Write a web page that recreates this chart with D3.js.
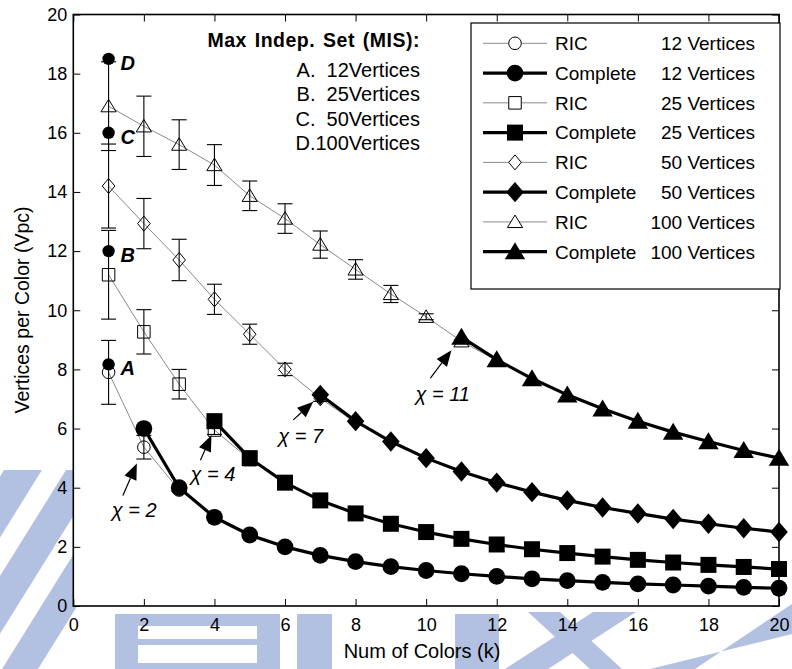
<!DOCTYPE html>
<html>
<head>
<meta charset="utf-8">
<script src="https://cdn.jsdelivr.net/npm/d3@7"></script>
<style>
  html, body { margin: 0; padding: 0; background: #fff; }
  svg { display: block; font-family: "Liberation Sans", Arial, Helvetica, sans-serif; }
  text { white-space: pre; }
</style>
</head>
<body>
<svg id="chart" width="792" height="669"></svg>
<script>
// ---- data -----------------------------------------------------------
const xTicks = [0, 2, 4, 6, 8, 10, 12, 14, 16, 18, 20];
const yTicks = [0, 2, 4, 6, 8, 10, 12, 14, 16, 18, 20];
const vertexCounts = [12, 25, 50, 100];

// RIC colouring: mean vertices per colour from k = 1, with half-width of the spread
const ric12 = [7.9, 5.37, 3.92];
const ric12Err = [1.08, 0.4, 0.05];
const ric25 = [11.2, 9.27, 7.5, 5.95, 4.95];
const ric25Err = [1.5, 0.75, 0.5, 0.15, 0];
const ric50 = [14.2, 12.93, 11.7, 10.37, 9.19, 8.0, 7.02, 6.2];
const ric50Err = [1.42, 0.85, 0.7, 0.51, 0.34, 0.21, 0.1, 0];
const ric100 = [16.9, 16.22, 15.6, 14.91, 13.87, 13.1, 12.22, 11.38, 10.55, 9.78, 8.95, 8.3];
const ric100Err = [1.5, 1.02, 0.84, 0.69, 0.5, 0.5, 0.46, 0.33, 0.29, 0.1, 0.05, 0];

// Chromatic numbers: the complete colouring starts at k = chi
const chiValues = [2, 4, 7, 11];
const complete12 = [6.0, 4.0, 3.0, 2.4, 2.0, 1.71, 1.5, 1.33, 1.2, 1.09, 1.0, 0.92, 0.86, 0.8, 0.75, 0.71, 0.67, 0.63, 0.6];
const complete25 = [6.25, 5.0, 4.17, 3.57, 3.13, 2.78, 2.5, 2.27, 2.08, 1.92, 1.79, 1.67, 1.56, 1.47, 1.39, 1.32, 1.25];
const complete50 = [7.14, 6.25, 5.56, 5.0, 4.55, 4.17, 3.85, 3.57, 3.33, 3.13, 2.94, 2.78, 2.63, 2.5];
const complete100 = [9.09, 8.33, 7.69, 7.14, 6.67, 6.25, 5.88, 5.56, 5.26, 5.0];

// Maximum independent set sizes, shown at k = 1
const misLetters = ["A", "B", "C", "D"];
const misValues = [8.17, 12.0, 16.0, 18.5];
const misTitle = "Max Indep. Set (MIS):";
const misLines = ["A.  12Vertices", "B.  25Vertices", "C.  50Vertices", "D.100Vertices"];

const methodNames = ["RIC", "Complete"];

// ---- layout ---------------------------------------------------------
const svg = d3.select("#chart");
const x = d3.scaleLinear().domain([0, 20]).range([73.3, 779]);
const y = d3.scaleLinear().domain([0, 20]).range([606, 14.5]);
const ink = "#000";
const ricGrey = "#8a8a8a";
const emblem = "#b2c1e2";

// faint emblem in the page background
const bg = svg.append("g");
const bands = [
  [[-120, 669], [-82, 669], [42, 470], [4, 470]],
  [[-58, 669], [-22, 669], [102, 470], [66, 470]],
  [[2, 669], [38, 669], [162, 470], [126, 470]],
  [[505, 669], [548, 669], [636, 612], [593, 612]],
  [[650, 669], [695, 669], [792, 604], [792, 634]],
  [[590, 669], [622, 669], [560, 612], [528, 612]]
];
bg.selectAll("polygon").data(bands).join("polygon")
  .attr("points", d => d.map(p => p.join(",")).join(" "))
  .attr("fill", emblem);
bg.append("rect").attr("x", 115).attr("y", 614).attr("width", 165).attr("height", 55).attr("fill", emblem);
bg.append("rect").attr("x", 138).attr("y", 626).attr("width", 119).attr("height", 13).attr("fill", "#fff");
bg.append("rect").attr("x", 138).attr("y", 645).attr("width", 119).attr("height", 18).attr("fill", "#fff");
bg.append("rect").attr("x", 297).attr("y", 614).attr("width", 35).attr("height", 55).attr("fill", emblem);
bg.append("rect").attr("x", 455).attr("y", 614).attr("width", 44).attr("height", 55).attr("fill", emblem);

// plot background
svg.append("rect")
  .attr("x", x(0)).attr("y", y(20))
  .attr("width", x(20) - x(0)).attr("height", y(0) - y(20))
  .attr("fill", "#fff");

// ---- axes (ticks point inward on all four sides) ---------------------
function styleAxis(g, fs) {
  g.select(".domain").remove();
  g.selectAll(".tick line").attr("stroke", ink).attr("stroke-width", 1);
  g.selectAll(".tick text").attr("fill", ink).style("font-size", fs + "px")
    .style("font-family", "'Liberation Sans', Arial, sans-serif");
}
svg.append("g").attr("transform", `translate(0,${y(0)})`)
  .call(d3.axisBottom(x).tickValues(xTicks).tickSize(-7).tickPadding(12).tickFormat(d3.format("d")))
  .call(g => styleAxis(g, 18));
svg.append("g").attr("transform", `translate(0,${y(20)})`)
  .call(d3.axisTop(x).tickValues(xTicks).tickSize(-7).tickFormat(""))
  .call(g => styleAxis(g, 18));
svg.append("g").attr("transform", `translate(${x(0)},0)`)
  .call(d3.axisLeft(y).tickValues(yTicks).tickSize(-7).tickPadding(6).tickFormat(d3.format("d")))
  .call(g => styleAxis(g, 18));
svg.append("g").attr("transform", `translate(${x(20)},0)`)
  .call(d3.axisRight(y).tickValues(yTicks).tickSize(-7).tickFormat(""))
  .call(g => styleAxis(g, 18));
svg.append("rect")
  .attr("x", x(0)).attr("y", y(20))
  .attr("width", x(20) - x(0)).attr("height", y(0) - y(20))
  .attr("fill", "none").attr("stroke", ink).attr("stroke-width", 1.6);

// axis titles
svg.append("text").attr("x", 422).attr("y", 658).attr("text-anchor", "middle")
  .style("font-size", "20px").attr("fill", ink).text("Num of Colors (k)");
svg.append("text").attr("transform", "translate(29,310) rotate(-90)").attr("text-anchor", "middle")
  .style("font-size", "19.5px").attr("fill", ink).text("Vertices per Color (Vpc)");

// ---- marker shapes ---------------------------------------------------
const shapes = {
  circle: (r) => `M${r},0A${r},${r} 0 1,1 ${-r},0A${r},${r} 0 1,1 ${r},0Z`,
  square: (s) => `M${-s / 2},${-s / 2}H${s / 2}V${s / 2}H${-s / 2}Z`,
  diamond: (w, h) => `M0,${-h}L${w},0L0,${h}L${-w},0Z`,
  triangle: (w, h) => `M0,${-h * 0.55}L${w},${h * 0.45}L${-w},${h * 0.45}Z`
};
const openMarker = [
  () => shapes.circle(6.3),
  () => shapes.square(12.5),
  () => shapes.diamond(6.3, 7.5),
  () => shapes.triangle(7.6, 12.5)
];
const filledMarker = [
  () => shapes.circle(8.4),
  () => shapes.square(16),
  () => shapes.diamond(8.8, 10.2),
  () => shapes.triangle(10.2, 17)
];

const ricSets = [[ric12, ric12Err], [ric25, ric25Err], [ric50, ric50Err], [ric100, ric100Err]];
const completeSets = [complete12, complete25, complete50, complete100];

const plot = svg.append("g");

// RIC curves (thin grey) with spread bars
ricSets.forEach(([vals, errs], si) => {
  const pts = vals.map((v, i) => ({ k: i + 1, v, e: errs[i] }));
  plot.append("path").datum(pts)
    .attr("d", d3.line().x(d => x(d.k)).y(d => y(d.v)))
    .attr("fill", "none").attr("stroke", ricGrey).attr("stroke-width", 1);
  const eb = plot.append("g").selectAll("g").data(pts.filter(d => d.e > 0)).join("g")
    .attr("stroke", ink).attr("stroke-width", 1.1);
  eb.append("line").attr("x1", d => x(d.k)).attr("x2", d => x(d.k))
    .attr("y1", d => y(d.v - d.e)).attr("y2", d => y(d.v + d.e));
  eb.append("line").attr("x1", d => x(d.k) - 7.5).attr("x2", d => x(d.k) + 7.5)
    .attr("y1", d => y(d.v - d.e)).attr("y2", d => y(d.v - d.e));
  eb.append("line").attr("x1", d => x(d.k) - 7.5).attr("x2", d => x(d.k) + 7.5)
    .attr("y1", d => y(d.v + d.e)).attr("y2", d => y(d.v + d.e));
  plot.append("g").selectAll("path").data(pts).join("path")
    .attr("transform", d => `translate(${x(d.k)},${y(d.v)})`)
    .attr("d", openMarker[si]())
    .attr("fill", "none").attr("stroke", ink).attr("stroke-width", 1);
});

// Complete colouring curves (thick black)
completeSets.forEach((vals, si) => {
  const pts = vals.map((v, i) => ({ k: chiValues[si] + i, v }));
  plot.append("path").datum(pts)
    .attr("d", d3.line().x(d => x(d.k)).y(d => y(d.v)))
    .attr("fill", "none").attr("stroke", ink).attr("stroke-width", 3.2)
    .attr("stroke-linejoin", "round");
  plot.append("g").selectAll("path").data(pts).join("path")
    .attr("transform", d => `translate(${x(d.k)},${y(d.v)})`)
    .attr("d", filledMarker[si]())
    .attr("fill", ink);
});

// MIS points at k = 1
const mis = misValues.map((v, i) => ({ v, letter: misLetters[i] }));
plot.append("g").selectAll("circle").data(mis).join("circle")
  .attr("cx", x(1)).attr("cy", d => y(d.v)).attr("r", 6.2).attr("fill", ink);
plot.append("g").selectAll("text").data(mis).join("text")
  .attr("x", x(1) + 12).attr("y", d => y(d.v) + 11)
  .style("font-size", "20px").style("font-weight", "bold").style("font-style", "italic")
  .attr("fill", ink).text(d => d.letter);

// chromatic number call-outs, each pointing at the first complete point
const callouts = [
  { tip: [-7, 35], tail: [-21, 67], label: [-32, 88] },
  { tip: [-3, 14], tail: [-14, 39], label: [-24, 60] },
  { tip: [-7, 7], tail: [-27, 25], label: [-42, 48] },
  { tip: [-10, 13], tail: [-31, 41], label: [-46, 64] }
];
chiValues.forEach((chi, i) => {
  const px = x(chi), py = y(completeSets[i][0]);
  const c = callouts[i];
  const tx = px + c.tip[0], ty = py + c.tip[1];
  const sx = px + c.tail[0], sy = py + c.tail[1];
  const ang = Math.atan2(ty - sy, tx - sx);
  const len = 16, hw = 6.5;
  const bx = tx - len * Math.cos(ang), by = ty - len * Math.sin(ang);
  plot.append("line").attr("x1", sx).attr("y1", sy).attr("x2", bx).attr("y2", by)
    .attr("stroke", ink).attr("stroke-width", 1.2);
  plot.append("path")
    .attr("d", `M${tx},${ty}L${bx + hw * Math.sin(ang)},${by - hw * Math.cos(ang)}L${bx - hw * Math.sin(ang)},${by + hw * Math.cos(ang)}Z`)
    .attr("fill", ink);
  plot.append("text").attr("x", px + c.label[0]).attr("y", py + c.label[1])
    .style("font-size", "20px").style("font-style", "italic").attr("fill", ink)
    .text(`χ = ${chi}`);
});

// MIS caption
const cap = svg.append("g");
cap.append("text").attr("x", 420).attr("y", 46.5).attr("text-anchor", "end")
  .style("font-size", "19.5px").style("font-weight", "bold").style("letter-spacing", "0.5px")
  .style("word-spacing", "2px").attr("fill", ink).text(misTitle);
cap.selectAll("text.mis").data(misLines).join("text").attr("class", "mis")
  .attr("x", 420).attr("y", (d, i) => 76.5 + i * 24.5).attr("text-anchor", "end")
  .style("font-size", "20px").attr("fill", ink).text(d => d);

// ---- legend ------------------------------------------------------------
const legendRows = [];
vertexCounts.forEach((n, si) => {
  methodNames.forEach((m, mi) => legendRows.push({ m, mi, si, size: `${n} Vertices` }));
});
const lg = svg.append("g");
lg.append("rect").attr("x", 471).attr("y", 23).attr("width", 309).attr("height", 266)
  .attr("fill", "#fff").attr("stroke", ink).attr("stroke-width", 1.2);
const row = lg.selectAll("g.row").data(legendRows).join("g").attr("class", "row")
  .attr("transform", (d, i) => `translate(0,${43.3 + i * 29.77})`);
row.append("line").attr("x1", 483).attr("x2", 547).attr("y1", 0).attr("y2", 0)
  .attr("stroke", d => d.mi ? ink : ricGrey).attr("stroke-width", d => d.mi ? 3.2 : 1);
row.append("path").attr("transform", "translate(515,0)")
  .attr("d", d => d.mi ? filledMarker[d.si]() : openMarker[d.si]())
  .attr("fill", d => d.mi ? ink : "#fff").attr("stroke", ink).attr("stroke-width", d => d.mi ? 0 : 1);
row.append("text").attr("x", 555).attr("dy", "0.36em")
  .style("font-size", "19px").attr("fill", ink).text(d => d.m);
row.append("text").attr("x", 755).attr("dy", "0.36em").attr("text-anchor", "end")
  .style("font-size", "19px").attr("fill", ink).text(d => d.size);
</script>
</body>
</html>
